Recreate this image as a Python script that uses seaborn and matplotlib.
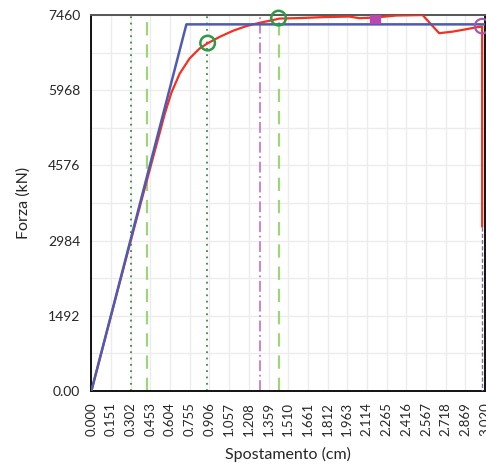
import numpy as np
import pandas as pd
import matplotlib
matplotlib.use("Agg")
import matplotlib.pyplot as plt
from matplotlib.ticker import MultipleLocator
import seaborn as sns

# ---- data ----
curve_x = [0.0, 0.1, 0.2, 0.3, 0.4, 0.48, 0.524, 0.563, 0.614, 0.678, 0.754, 0.831,
           0.890, 0.985, 1.086, 1.188, 1.290, 1.392, 1.443, 1.60, 1.775, 1.979, 2.056,
           2.176, 2.337, 2.541, 2.668, 2.770, 2.873, 2.949, 2.998, 2.998]
curve_y = [0, 990, 1980, 2960, 3930, 4700, 5120, 5500, 5920, 6300, 6600, 6798,
           6897, 7028, 7147, 7240, 7306, 7360, 7390, 7400, 7418, 7430, 7398,
           7410, 7450, 7460, 7100, 7130, 7177, 7215, 7232, 3260]
bilinear_x = [0.0, 0.729, 3.02]
bilinear_y = [0, 7275, 7275]
drop_x = [2.998, 2.998]
drop_y = [3260, 0]

dotted_x = [0.306, 0.890]
dashed_x = [0.430, 1.438]
dashdot_x = [1.292]

circle_pts_x = [0.892, 1.436]
circle_pts_y = [6904, 7400]
square_x, square_y = [2.176], [7410]
end_x, end_y = [2.998], [7240]

xticks = [round(0.151 * i, 3) for i in range(21)]
xtick_labels = [f"{v:.3f}" for v in xticks]
yticks = [0, 1492, 2984, 4476, 5968, 7460]
ytick_labels = ["0.00", "1492", "2984", "4576", "5968", "7460"]

# ---- plot ----
sns.set_style("white")
plt.rcParams['font.family'] = ['Lato', 'DejaVu Sans']

fig = plt.figure(figsize=(4.86, 4.70), dpi=100)
ax = fig.add_axes([0.188, 0.168, 0.810, 0.800])

df_curve = pd.DataFrame({"x": curve_x, "y": curve_y})
df_bil = pd.DataFrame({"x": bilinear_x, "y": bilinear_y})
df_drop = pd.DataFrame({"x": drop_x, "y": drop_y})

for xv in dotted_x:
    ax.axvline(xv, color="#3c8a45", lw=1.3, ls=(0, (1, 2.5)), zorder=2)
for xv in dashed_x:
    ax.axvline(xv, color="#9ed47c", lw=1.6, ls=(0, (6, 4)), zorder=2)
for xv in dashdot_x:
    ax.axvline(xv, color="#cc7ac8", lw=1.3, ls=(0, (6, 2, 1, 2)), zorder=2)

sns.lineplot(data=df_drop, x="x", y="y", ax=ax, color="#8a6a9a", lw=1.0,
             linestyle=(0, (3, 1.5)), sort=False, estimator=None, zorder=3)
sns.lineplot(data=df_curve, x="x", y="y", ax=ax, color="#f5301f", lw=1.6,
             sort=False, estimator=None, zorder=4)
sns.lineplot(data=df_bil, x="x", y="y", ax=ax, color="#4f5ab4", lw=1.8,
             sort=False, estimator=None, zorder=5)

ax.scatter(circle_pts_x, circle_pts_y, s=110, facecolors="none", edgecolors="#2e9a48",
           linewidths=1.8, zorder=6, clip_on=False)
ax.scatter(square_x, square_y, s=45, marker="s", color="#b848b0", zorder=6)
ax.scatter(end_x, end_y, s=110, facecolors="none", edgecolors="#a858a8",
           linewidths=1.6, zorder=6, clip_on=False)

ax.set_xlim(0, 3.02)
ax.set_ylim(0, 7460)
ax.set_xticks(xticks)
ax.set_xticklabels(xtick_labels, rotation=90, fontsize=9.5)
ax.set_yticks(yticks)
ax.set_yticklabels(ytick_labels, fontsize=10)
ax.yaxis.set_minor_locator(MultipleLocator(746))
ax.tick_params(axis="both", which="both", length=0, pad=8)
ax.grid(True, which="major", axis="x", color="#ececec", lw=1.0, zorder=0)
ax.grid(True, which="both", axis="y", color="#ececec", lw=1.0, zorder=0)
ax.set_axisbelow(True)

for s in ax.spines.values():
    s.set_color("#111111")
    s.set_linewidth(1.4)
ax.spines["top"].set_color("#555555")

ax.set_xlabel("Spostamento (cm)", fontsize=11.5, labelpad=8)
ax.set_ylabel("Forza (kN)", fontsize=11.5, labelpad=12)

fig.savefig("out.png", dpi=100)
